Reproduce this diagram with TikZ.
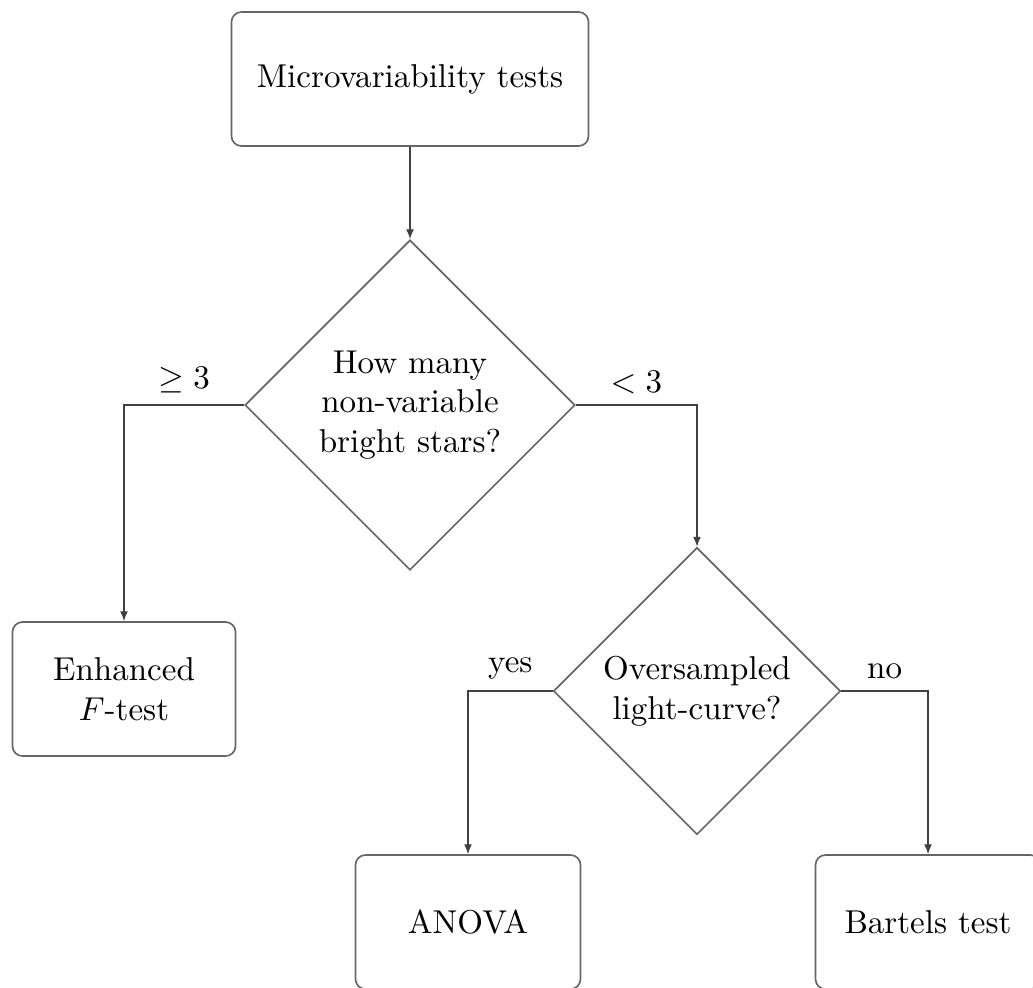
\documentclass[tikz,border=0pt]{standalone}
\usetikzlibrary{shapes.geometric,arrows.meta}
\newcommand\pxu{0.3026pt}
\begin{document}
\begin{tikzpicture}[x=\pxu, y=-\pxu,
  box/.style={draw=black!60, line width=0.5pt, rounded corners=3pt, minimum height={134*\pxu}, align=center, inner sep=0pt},
  dec/.style={diamond, draw=black!60, line width=0.5pt, align=center, inner sep=0pt, aspect=1},
  conn/.style={draw=black!75, line width=0.4pt, -{Latex[length=3pt,width=2.4pt]}},
  lbl/.style={above}]
\clip (0,0) rectangle (1033,987);
\node[box, minimum width={357*\pxu}] (mv) at (410,79) {Microvariability tests};
\node[dec, minimum width={330*\pxu}, minimum height={330*\pxu}] (q1) at (410,405) {How many\\non-variable\\bright stars?};
\node[box, minimum width={223*\pxu}] (enh) at (124,689) {Enhanced\\$F$-test};
\node[dec, minimum width={287*\pxu}, minimum height={287*\pxu}] (q2) at (697,691) {Oversampled\\light-curve?};
\node[box, minimum width={225*\pxu}] (anova) at (468,922) {ANOVA};
\node[box, minimum width={225*\pxu}] (bart) at (928,922) {Bartels test};
\draw[conn] (mv.south) -- (q1.north);
\draw[conn] (q1.west) -| (enh.north) node[lbl, pos=0.25] {$\geq 3$};
\draw[conn] (q1.east) -| (q2.north) node[lbl, pos=0.25] {$<3$};
\draw[conn] (q2.west) -| (anova.north) node[lbl, pos=0.25] {yes};
\draw[conn] (q2.east) -| (bart.north) node[lbl, pos=0.25] {no};
\end{tikzpicture}
\end{document}
